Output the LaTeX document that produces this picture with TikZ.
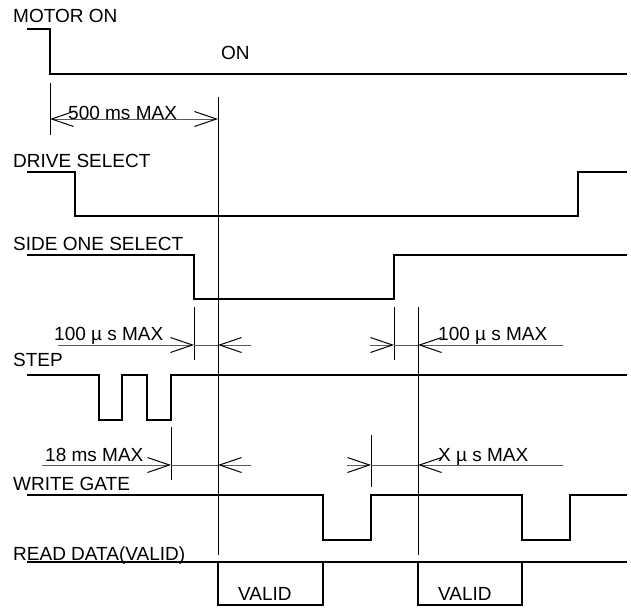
\documentclass[tikz,border=0pt]{standalone}
\usepackage{fontspec}
\setmainfont{Liberation Sans}
\usetikzlibrary{arrows.meta}
\definecolor{cota}{HTML}{5A5A5A}
\tikzset{cotabarb/.tip={Straight Barb[length=22pt,width=15pt,color=black]}}

\begin{document}
\begin{tikzpicture}[x=1pt,y=-1pt,
    wave/.style={line width=2.6pt,line join=miter},
    guide/.style={line width=1pt},
    dimline/.style={line width=1pt,cota},
    lbl/.style={anchor=base west,inner sep=0pt,font=\fontsize{19}{22}\selectfont}]
      \useasboundingbox (0,0) rectangle (631,607);
      % signal names
      \node[lbl] (motor) at (13,22.7) {MOTOR ON};
      \node[lbl] (drive) at (13,167) {DRIVE SELECT};
      \node[lbl] (side) at (13,250) {SIDE ONE SELECT};
      \node[lbl] (step) at (13,366.7) {STEP};
      \node[lbl] (write) at (13,490) {WRITE GATE};
      \node[lbl] (read) at (13,560) {READ DATA(VALID)};
      \node[lbl] (on) at (221,59.3) {ON};
      \node[lbl] (valid1) at (238,600) {VALID};
      \node[lbl] (valid2) at (438,600) {VALID};
      % timing values
      \node[lbl] (t500) at (68,119) {500 ms MAX};
      \node[lbl] (t100a) at (54,340.7) {100 µ s MAX};
      \node[lbl] (t100b) at (438,340.7) {100 µ s MAX};
      \node[lbl] (t18) at (45,461) {18 ms MAX};
      \node[lbl] (tx) at (438,461) {X µ s MAX};
      % waveforms
      \draw[wave] (27,29) -| (50,74) -- (627,74);
      \draw[wave] (27,172) -| (75,216) -| (578,172) -- (627,172);
      \draw[wave] (27,255) -| (194,299) -| (394,255) -- (627,255);
      \draw[wave] (27,375) -| (99,420) -| (122,375) -| (147,420) -| (171,375) -- (627,375);
      \draw[wave] (27,495) -| (323,540) -| (371,495) -| (522,540) -| (570,495) -- (627,495);
      \draw[wave] (27,562) -- (627,562);
      \draw[wave] (218,562) |- (323,605) -- (323,562);
      \draw[wave] (418,562) |- (522,605) -- (522,562);
      % reference lines
      \draw[guide] (50,83) -- (50,135);
      \draw[guide] (218,97) -- (218,555);
      \draw[guide] (194,307) -- (194,360);
      \draw[guide] (394,307) -- (394,360);
      \draw[guide] (418,307) -- (418,555);
      \draw[guide] (171,427) -- (171,480);
      \draw[guide] (371,435) -- (371,487);
      % dimensions
      \draw[dimline,cotabarb-cotabarb] (50,119) -- (218,119);
      \draw[dimline,-cotabarb] (58,345) -- (194,345);
      \draw[dimline] (194,345) -- (218,345);
      \draw[dimline,-cotabarb] (251,345) -- (218,345);
      \draw[dimline,-cotabarb] (370,345) -- (394,345);
      \draw[dimline] (394,345) -- (418,345);
      \draw[dimline,-cotabarb] (563,345) -- (418,345);
      \draw[dimline,-cotabarb] (42,465) -- (171,465);
      \draw[dimline] (171,465) -- (218,465);
      \draw[dimline,-cotabarb] (251,465) -- (218,465);
      \draw[dimline,-cotabarb] (347,465) -- (371,465);
      \draw[dimline] (371,465) -- (418,465);
      \draw[dimline,-cotabarb] (563,465) -- (418,465);
    \end{tikzpicture}
\end{document}
